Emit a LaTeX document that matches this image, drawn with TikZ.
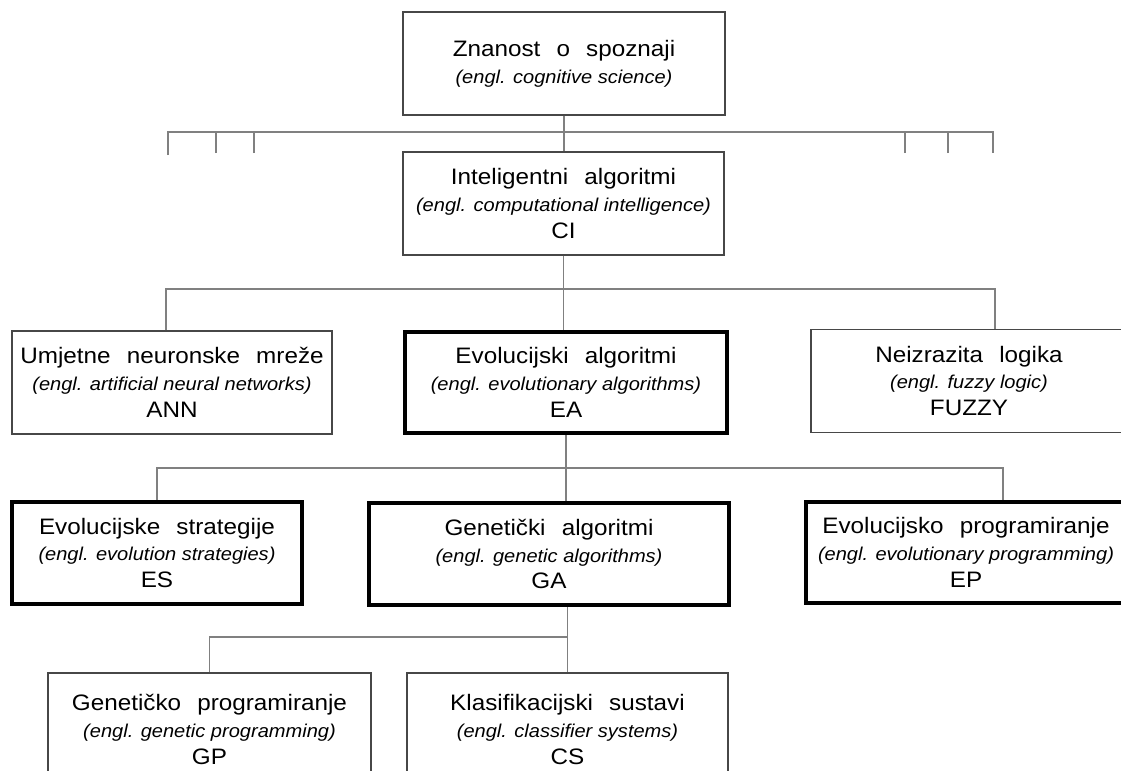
\documentclass[tikz,border=0pt]{standalone}
\usepackage{fontspec}
\setmainfont{Liberation Sans}[FakeStretch=1.085,WordSpace=2.4]
\newfontfamily\engfont{Liberation Sans}[FakeStretch=1.08]
\usepackage{tikz}
\def\cell#1#2#3{#1\\{\fontsize{13.2}{15}\engfont\itshape #2}\\#3}
\colorlet{box edge}{black!72}
\colorlet{link line}{black!50}
\tikzset{box/.style={draw=box edge, line width=0.9pt, minimum height=2.575cm,
		align=center, inner sep=0pt, font=\fontsize{15.9}{19}\selectfont},
	bold/.style={box, draw=black, line width=3.2pt},
	link/.style={draw=link line, line width=1.1pt}}

\begin{document}
\begin{tikzpicture}[x=0.025cm,y=-0.025cm]
		\clip (0,0) rectangle (1121,771);
		\node[box, minimum width=8.05cm] (z) at (564,63.5)
		{Znanost o spoznaji\\{\fontsize{13.2}{15}\engfont\itshape (engl. cognitive science)}};
		\node[box, minimum width=8.025cm] (ci) at (563.5,203.5)
		{\cell{Inteligentni algoritmi}{(engl. computational intelligence)}{CI}};
		
		\node[box, minimum width=8cm] (ann) at (172,382.5)
		{\cell{Umjetne neuronske mreže}{(engl. artificial neural networks)}{ANN}};
		\node[bold, minimum width=8.05cm, minimum height=2.525cm] (ea) at (566,382.5)
		{\cell{Evolucijski algoritmi}{(engl. evolutionary algorithms)}{EA}};
		\node[box, minimum width=7.9cm] (fuzzy) at (969,381)
		{\cell{Neizrazita logika}{(engl. fuzzy logic)}{FUZZY}};
		
		\node[bold, minimum width=7.25cm, minimum height=2.55cm] (es) at (157,553)
		{\cell{Evolucijske strategije}{(engl. evolution strategies)}{ES}};
		\node[bold, minimum width=9cm, minimum height=2.55cm] (ga) at (549,554)
		{\cell{Genetički algoritmi}{(engl. genetic algorithms)}{GA}};
		\node[bold, minimum width=8cm, minimum height=2.525cm] (ep) at (966,552.5)
		{\cell{Evolucijsko programiranje}{(engl. evolutionary programming)}{EP}};
		
		\node[box, minimum width=8.075cm, minimum height=2.825cm] (gp) at (209.5,729.5)
		{\cell{Genetičko programiranje}{(engl. genetic programming)}{GP}};
		\node[box, minimum width=8.025cm, minimum height=2.825cm] (cs) at (567.5,729.5)
		{\cell{Klasifikacijski sustavi}{(engl. classifier systems)}{CS}};
		
		% bus lines
		\coordinate (bus1) at (0,132);
		\coordinate (bus2) at (0,289);
		\coordinate (bus3) at (0,468);
		\coordinate (bus4) at (0,637);
		\coordinate (stub1) at (168,155);
		\coordinate (stub2) at (216,153);
		\coordinate (stub3) at (254,153);
		\coordinate (stub4) at (905,153);
		\coordinate (stub5) at (948,153);
		\coordinate (stub6) at (993,153);
		\coordinate (fz) at ([xshift=0.65cm]fuzzy.north);
		\coordinate (epin) at ([xshift=0.925cm]ep.north);
		
		\draw[link] (z.south) -- (z.south |- ci.north);
		\draw[link] (stub1) -- (stub1 |- bus1) -- (stub6 |- bus1) -- (stub6);
		\foreach \s in {stub2,stub3,stub4,stub5}
			\draw[link] (\s) -- (\s |- bus1);
		
		\draw[link] (ci.south) -- (ci.south |- ea.north);
		\draw[link] ([xshift=-0.15cm]ann.north) -- ([xshift=-0.15cm]ann.north |- bus2) -- (fz |- bus2) -- (fz);
		
		\draw[link] (ea.south) -- (ea.south |- ga.north);
		\draw[link] (es.north) -- (es.north |- bus3) -- (epin |- bus3) -- (epin);
		
		\draw[link] (cs.north |- ga.south) -- (cs.north);
		\draw[link] (gp.north) -- (gp.north |- bus4) -- (cs.north |- bus4);
		\end{tikzpicture}
\end{document}
